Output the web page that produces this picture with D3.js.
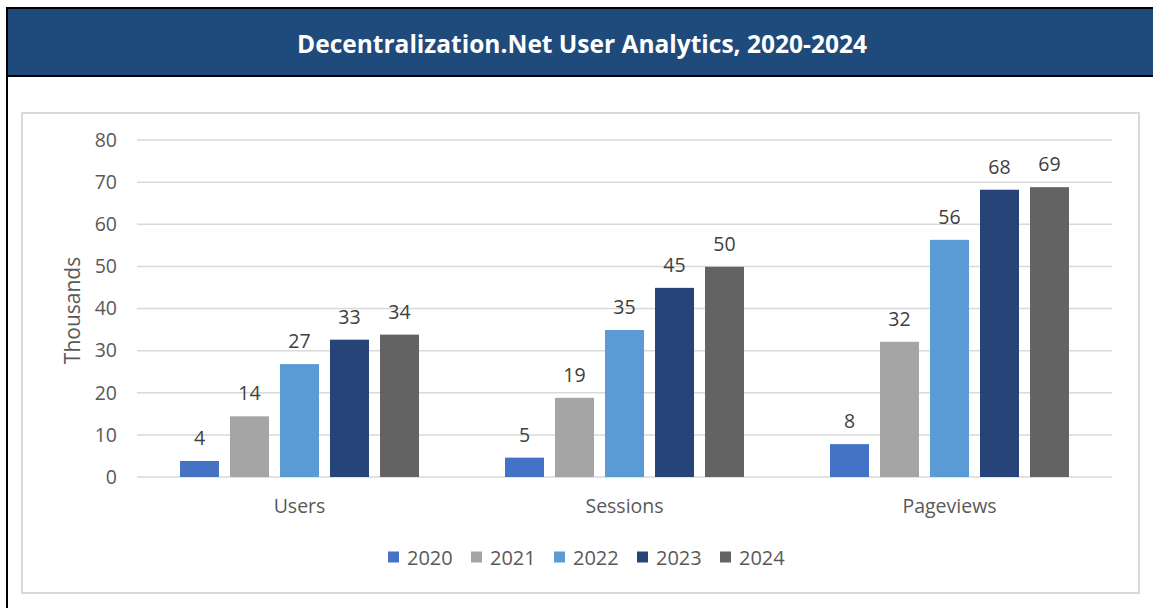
<!DOCTYPE html>
<html><head><meta charset="utf-8">
<script src="https://cdn.jsdelivr.net/npm/d3@7"></script>
<style>
html,body{margin:0;padding:0;background:#fff;}
svg{display:block;}
text{font-family:"Open Sans",sans-serif;}
</style></head>
<body>
<svg id="c" width="1153" height="608"></svg>
<script>
const title = "Decentralization.Net User Analytics, 2020-2024";
const categories = ["Users", "Sessions", "Pageviews"];
const years = ["2020", "2021", "2022", "2023", "2024"];
const v2020 = [3.8, 4.6, 7.8];
const v2021 = [14.4, 18.8, 32.1];
const v2022 = [26.8, 34.9, 56.3];
const v2023 = [32.6, 44.9, 68.2];
const v2024 = [33.8, 49.9, 68.8];
const yTicks = [0, 10, 20, 30, 40, 50, 60, 70, 80];
const yTitle = "Thousands";
const colors = ["#4472C4", "#A5A5A5", "#5B9BD5", "#264478", "#636363"];

const seriesVals = [v2020, v2021, v2022, v2023, v2024];
const data = categories.map((c, i) => ({cat: c, vals: years.map((y, j) => ({year: y, v: seriesVals[j][i], color: colors[j]}))}));

const svg = d3.select("#c");

// title bar
svg.append("rect").attr("x", 7).attr("y", 8).attr("width", 1150).attr("height", 68)
  .attr("fill", "#1F4A7C").attr("stroke", "#000").attr("stroke-width", 2);
svg.append("line").attr("x1", 7).attr("x2", 7).attr("y1", 8).attr("y2", 608).attr("stroke", "#000").attr("stroke-width", 2);
svg.append("text").attr("x", 582).attr("y", 43).attr("text-anchor", "middle").attr("dominant-baseline", "central")
  .attr("fill", "#fff").attr("font-weight", "bold").attr("font-size", 24.5).text(title);

// inner chart frame
svg.append("rect").attr("x", 22).attr("y", 113).attr("width", 1117).attr("height", 480)
  .attr("fill", "none").attr("stroke", "#D9D9D9").attr("stroke-width", 2);

const pL = 137, pR = 1112, pT = 140, pB = 477;
const y = d3.scaleLinear().domain([0, 80]).range([pB, pT]);
const x0 = d3.scaleBand().domain(categories).range([pL, pR]).padding(0);
const x1 = d3.scaleBand().domain(years).range([-119.5, 119.5]).paddingInner(0.22).paddingOuter(0);

// grid
svg.append("g").selectAll("line").data(yTicks).join("line")
  .attr("x1", pL).attr("x2", pR).attr("y1", d => y(d)).attr("y2", d => y(d))
  .attr("stroke", "#D9D9D9").attr("stroke-width", 1.5);

// y axis labels
const yAxis = svg.append("g").attr("transform", `translate(${pL},0)`)
  .call(d3.axisLeft(y).tickValues(yTicks).tickSize(0).tickPadding(20));
yAxis.select(".domain").remove();
yAxis.selectAll("text").attr("font-size", 19.5).attr("fill", "#595959").attr("font-family", "Open Sans");

// y title
svg.append("text").attr("transform", `translate(72,${(pT+pB)/2 + 2}) rotate(-90)`)
  .attr("text-anchor", "middle").attr("dominant-baseline", "central")
  .attr("font-size", 21).attr("fill", "#595959").text(yTitle);

// bars
const groups = svg.append("g").selectAll("g").data(data).join("g")
  .attr("transform", d => `translate(${x0(d.cat) + x0.bandwidth()/2},0)`);
groups.selectAll("rect").data(d => d.vals).join("rect")
  .attr("x", d => x1(d.year)).attr("width", x1.bandwidth())
  .attr("y", d => y(d.v)).attr("height", d => y(0) - y(d.v)).attr("fill", d => d.color);
groups.selectAll("text").data(d => d.vals).join("text")
  .attr("x", d => x1(d.year) + x1.bandwidth()/2).attr("y", d => y(d.v) - 16)
  .attr("text-anchor", "middle").attr("font-size", 19.5).attr("fill", "#404040")
  .text(d => d3.format(".0f")(d.v));

// x axis labels
const xAxis = svg.append("g").attr("transform", `translate(0,${pB})`)
  .call(d3.axisBottom(x0).tickSize(0).tickPadding(22));
xAxis.select(".domain").remove();
xAxis.selectAll("text").attr("font-size", 19.5).attr("fill", "#595959").attr("font-family", "Open Sans");

// legend
const legX = d3.scalePoint().domain(years).range([388, 720]);
const leg = svg.append("g").selectAll("g").data(years).join("g")
  .attr("transform", d => `translate(${legX(d)},557)`);
leg.append("rect").attr("x", 0).attr("y", -5.5).attr("width", 11).attr("height", 11)
  .attr("fill", (d, i) => colors[i]);
leg.append("text").attr("x", 19).attr("y", 0).attr("dominant-baseline", "central")
  .attr("font-size", 20).attr("fill", "#595959").text(d => d);
</script>
</body></html>
